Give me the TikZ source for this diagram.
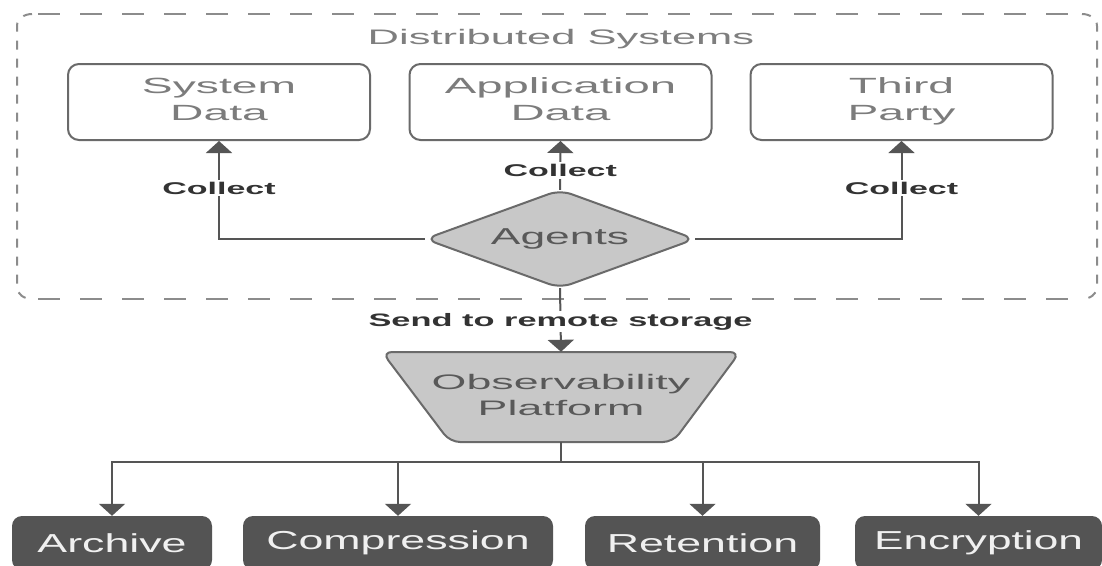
\documentclass[tikz,border=0pt]{standalone}
\usepackage{fontspec}
\setmainfont{Liberation Sans}
\usepackage{graphicx}
\usetikzlibrary{arrows.meta}

\definecolor{wire}{HTML}{555555}
\definecolor{rim}{HTML}{6A6A6A}
\definecolor{frame}{HTML}{8C8C8C}
\definecolor{softtext}{HTML}{7C7C7C}
\definecolor{lighttile}{HTML}{C8C8C8}
\definecolor{darktile}{HTML}{545454}
\definecolor{labeltext}{HTML}{333333}

% horizontally widened text
\newcommand{\hs}[2]{\scalebox{#1}[1]{#2}}
\newcommand{\twoline}[2]{\begin{tabular}{@{}c@{}}#1\\#2\end{tabular}}

\tikzset{
  source/.style={draw=rim, line width=2pt, rounded corners=11pt, fill=white,
    minimum width=302pt, minimum height=76pt, inner sep=0pt, text=softtext,
    font=\fontsize{22}{27}\selectfont},
  tile/.style={draw=rim, line width=2pt, fill=lighttile},
  tiletext/.style={inner sep=0pt, text=black!65},
  task/.style={fill=darktile, rounded corners=10pt, minimum height=54pt,
    inner sep=0pt, text=white!94!black, font=\fontsize{26}{28}\selectfont},
  conn/.style={draw=wire, line width=2pt, -{Triangle[width=26pt,length=12pt]}},
  plainconn/.style={draw=wire, line width=2pt},
  lbl/.style={fill=white, inner sep=2pt, text=labeltext,
    font=\bfseries\fontsize{17}{19}\selectfont},
  dashH/.style={draw=frame, line width=2pt, dash pattern=on 22pt off 20pt},
  dashV/.style={draw=frame, line width=2pt, dash pattern=on 9pt off 9pt},
}

\begin{document}
\begin{tikzpicture}[x=1pt, y=-1pt]
  \useasboundingbox (0,0) rectangle (1102,565);
  \clip (0,0) rectangle (1102,565);
  \fill[white] (0,0) rectangle (1102,565);

  % dashed frame of the distributed systems group
  \draw[dashH, dash phase=-6pt] (32,14) -- (1082,14);
  \draw[dashH, dash phase=-6pt] (32,299) -- (1082,299);
  \draw[dashV] (32,14) to[out=180,in=90] (17,26) -- (17,287) to[out=-90,in=180] (32,299);
  \draw[dashV] (1082,14) to[out=0,in=90] (1097,26) -- (1097,287) to[out=-90,in=0] (1082,299);
  \node[text=frame!90!black, font=\fontsize{21}{24}\selectfont] (title) at (561,39)
    {\hs{2.07}{Distributed Systems}};

  % data sources
  \node[source] (sys) at (219,102) {\raisebox{-2pt}{\hs{2.1}{\twoline{System}{Data}}}};
  \node[source] (app) at (560.5,102) {\raisebox{-2pt}{\hs{2.15}{\twoline{Application}{Data}}}};
  \node[source] (third) at (901.5,102) {\raisebox{-2pt}{\hs{2.1}{\twoline{Third}{Party}}}};

  % agents (diamond outline + text node spanning it)
  \draw[tile, rounded corners=12pt] (425,239) -- (560,190) -- (695,239) -- (560,288) -- cycle;
  \node[tiletext, minimum width=270pt, minimum height=98pt,
    font=\fontsize{23}{26}\selectfont] (ag) at (560,239) {\hs{1.93}{Agents}};

  % observability platform (trapezoid outline + text node)
  \draw[tile, rounded corners=10pt] (382,352) -- (740,352) -- (673,442) -- (450,442) -- cycle;
  \node[tiletext, minimum width=223pt, minimum height=90pt,
    font=\fontsize{21}{26}\selectfont] (obs) at (561,397)
    {\raisebox{-2pt}{\hs{2.13}{\twoline{Observability}{Platform}}}};

  % storage tasks
  \node[task, minimum width=200pt] (arc) at (112,543) {\hs{1.72}{Archive}};
  \node[task, minimum width=310pt] (cmp) at (398,543) {\hs{1.72}{Compression}};
  \node[task, minimum width=235pt] (ret) at (702.5,543) {\hs{1.72}{Retention}};
  \node[task, minimum width=247pt] (enc) at (978.5,543) {\hs{1.70}{Encryption}};

  % collection links
  \draw[conn] (ag.west) -| node[lbl, pos=0.76] (c1) {\hs{2.0}{Collect}} (sys.south);
  \draw[conn] (ag.north) -- node[lbl, pos=0.4] (c2) {\hs{2.0}{Collect}} (app.south);
  \draw[conn] (ag.east) -| node[lbl, pos=0.76] (c3) {\hs{2.0}{Collect}} (third.south);

  % sending to the platform
  \draw[conn] (ag.south) -- node[lbl, pos=0.53, font=\bfseries\fontsize{18}{20}\selectfont]
    (send) {\hs{1.91}{Send to remote storage}} (obs.north);

  % fan-out to the storage tasks
  \coordinate (hub) at (obs.south |- 0,462);
  \draw[plainconn] (obs.south) -- (hub);
  \draw[conn] (hub) -| (arc.north);
  \draw[conn] (hub) -| (cmp.north);
  \draw[conn] (hub) -| (ret.north);
  \draw[conn] (hub) -| (enc.north);
\end{tikzpicture}
\end{document}
